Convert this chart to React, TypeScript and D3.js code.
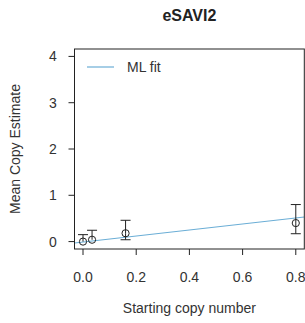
import React from "react";
import * as d3 from "d3";

const xValues = [0, 0.034, 0.16, 0.8];
const yMeans = [0.0, 0.04, 0.18, 0.4];
const yUpper = [0.15, 0.245, 0.46, 0.8];
const yLower = [0.0, 0.04, 0.04, 0.17];
const xTicks = [0, 0.2, 0.4, 0.6, 0.8];
const yTicks = [0, 1, 2, 3, 4];
const fitSlope = 0.65;
const fitIntercept = -0.01;

export default function App() {
  const W = 305, H = 323;
  const left = 74.5, right = 304.3, top = 49, bottom = 249;
  const x = d3.scaleLinear().domain([-0.032, 0.832]).range([left, right]);
  const y = d3.scaleLinear().domain([-0.16, 4.16]).range([bottom, top]);
  const font = "'Liberation Sans', Arial, sans-serif";
  const fitX = [-0.032, 0.832];
  const line = d3.line<number>().x((d) => x(d)).y((d) => y(fitIntercept + fitSlope * d));
  const cap = 5;
  return (
    <svg width={W} height={H} style={{ position: "absolute", left: 0, top: 0, background: "#fff" }}>
      <defs>
        <clipPath id="plotclip">
          <rect x={left} y={top} width={right - left} height={bottom - top} />
        </clipPath>
      </defs>
      <text x={(left + right) / 2} y={21} textAnchor="middle" fontFamily={font} fontWeight="bold" fontSize={16} fill="#222">eSAVI2</text>
      <path d={line(fitX) || ""} stroke="#6BAED6" strokeWidth={1.2} fill="none" clipPath="url(#plotclip)" />
      {xValues.map((xv, i) => {
        const cx = x(xv);
        return (
          <g key={i} stroke="#222" strokeWidth={1} fill="none">
            <line x1={cx} x2={cx} y1={y(yUpper[i])} y2={y(yMeans[i])} />
            <line x1={cx - cap} x2={cx + cap} y1={y(yUpper[i])} y2={y(yUpper[i])} />
            {yLower[i] < yMeans[i] - 0.005 && (
              <>
                <line x1={cx} x2={cx} y1={y(yMeans[i])} y2={y(yLower[i])} />
                <line x1={cx - cap} x2={cx + cap} y1={y(yLower[i])} y2={y(yLower[i])} />
              </>
            )}
            <circle cx={cx} cy={y(yMeans[i])} r={3.6} fill="none" />
          </g>
        );
      })}
      <rect x={left} y={top} width={right - left} height={bottom - top} fill="none" stroke="#222" strokeWidth={1} />
      {yTicks.map((t) => (
        <g key={t}>
          <line x1={left - 6} x2={left} y1={y(t)} y2={y(t)} stroke="#222" />
          <text x={53} y={y(t) + 5} textAnchor="middle" fontFamily={font} fontSize={14} fill="#333">{t}</text>
        </g>
      ))}
      {xTicks.map((t) => (
        <g key={t}>
          <line x1={x(t)} x2={x(t)} y1={bottom} y2={bottom + 6} stroke="#222" />
          <text x={x(t)} y={282} textAnchor="middle" fontFamily={font} fontSize={14} fill="#333">{t.toFixed(1)}</text>
        </g>
      ))}
      <text x={(left + right) / 2} y={313} textAnchor="middle" fontFamily={font} fontSize={14} fill="#333">Starting copy number</text>
      <text transform={`translate(20,${(top + bottom) / 2}) rotate(-90)`} textAnchor="middle" fontFamily={font} fontSize={14} fill="#333">Mean Copy Estimate</text>
      <line x1={87} x2={114} y1={67} y2={67} stroke="#6BAED6" strokeWidth={1.2} />
      <text x={127} y={72} fontFamily={font} fontSize={14} fill="#333">ML fit</text>
    </svg>
  );
}
